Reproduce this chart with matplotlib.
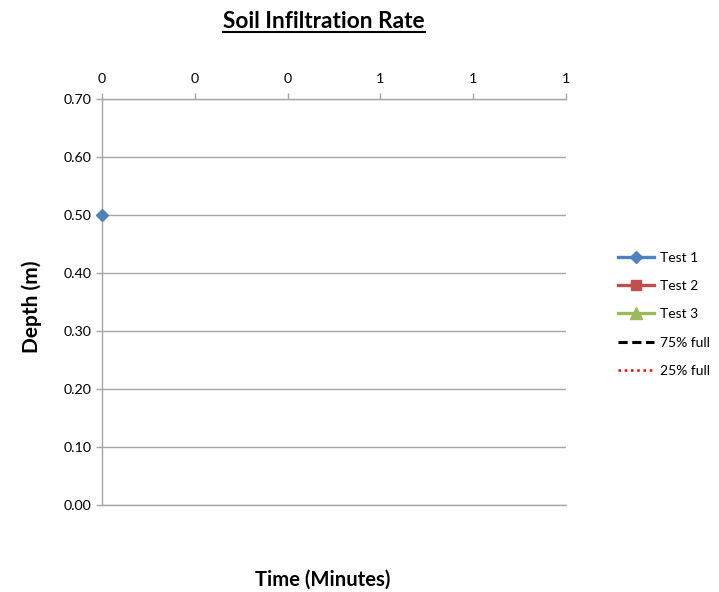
import matplotlib
matplotlib.use('Agg')
from matplotlib import pyplot as plt
from matplotlib.lines import Line2D
from matplotlib.ticker import FormatStrFormatter

plt.rcParams['font.family'] = ['Lato', 'DejaVu Sans']

# chart data (only Test 1 has a reading)
series_names = ['Test 1', 'Test 2', 'Test 3']
test1_time = [0.0]
test1_depth = [0.50]
test2_time = []
test2_depth = []
test3_time = []
test3_depth = []
x_ticks = [0.0, 0.2, 0.4, 0.6, 0.8, 1.0]
y_ticks = [0.0, 0.1, 0.2, 0.3, 0.4, 0.5, 0.6, 0.7]

fig = plt.figure(figsize=(7.19, 5.92), dpi=100)
W, H = 719, 592
ax = fig.add_axes([102 / W, 1 - 505 / H, (566 - 102) / W, (505 - 99) / H])

grey = '#a6a6a6'
ax.plot(test1_time, test1_depth, color='#4F81BD', lw=2.4, marker='D', ms=6.5,
        label='Test 1', clip_on=False, zorder=5)
ax.plot(test2_time, test2_depth, color='#C0504D', lw=2.4, marker='s', ms=7.5,
        label='Test 2')
ax.plot(test3_time, test3_depth, color='#9BBB59', lw=2.4, marker='^', ms=8,
        label='Test 3')
ax.plot([], [], color='black', lw=2.2, ls=(0, (3, 1.5)), label='75% full')
ax.plot([], [], color='red', lw=1.8, ls=(0, (1, 1.5)), label='25% full')

ax.set_xlim(0, 1)
ax.set_ylim(0, 0.7)
ax.set_xticks(x_ticks)
ax.set_yticks(y_ticks)
ax.xaxis.set_major_formatter(FormatStrFormatter('%.0f'))
ax.yaxis.set_major_formatter(FormatStrFormatter('%.2f'))
ax.xaxis.tick_top()
ax.grid(axis='y', color=grey, lw=1)
ax.set_axisbelow(True)
ax.spines['right'].set_visible(False)
for side in ['left', 'top', 'bottom']:
    ax.spines[side].set_color(grey)
    ax.spines[side].set_linewidth(1)
ax.tick_params(axis='both', colors=grey, labelcolor='black', labelsize=10.3,
               length=4, width=1)
ax.tick_params(axis='x', pad=6)

# title, underlined like the Excel original
title = fig.text(324 / W, 1 - 21 / H, 'Soil Infiltration Rate', ha='center',
                 va='center', fontsize=16.3, fontweight='bold')
fig.canvas.draw()
bb = title.get_window_extent()
fig.add_artist(Line2D([bb.x0 / W, bb.x1 / W], [1 - 32 / H, 1 - 32 / H],
                      color='black', lw=1.5, transform=fig.transFigure))

fig.text(323 / W, 1 - 580 / H, 'Time (Minutes)', ha='center', va='center',
         fontsize=14.6, fontweight='bold')
fig.text(32 / W, 1 - 307 / H, 'Depth (m)', ha='center', va='center',
         fontsize=15, fontweight='bold', rotation=90)

fig.legend(loc='upper left', bbox_to_anchor=(612 / W, 1 - 246 / H),
           frameon=False, fontsize=10, handlelength=2.6, handletextpad=0.45,
           labelspacing=1.18, borderaxespad=0)

fig.savefig('out.png', dpi=100)
